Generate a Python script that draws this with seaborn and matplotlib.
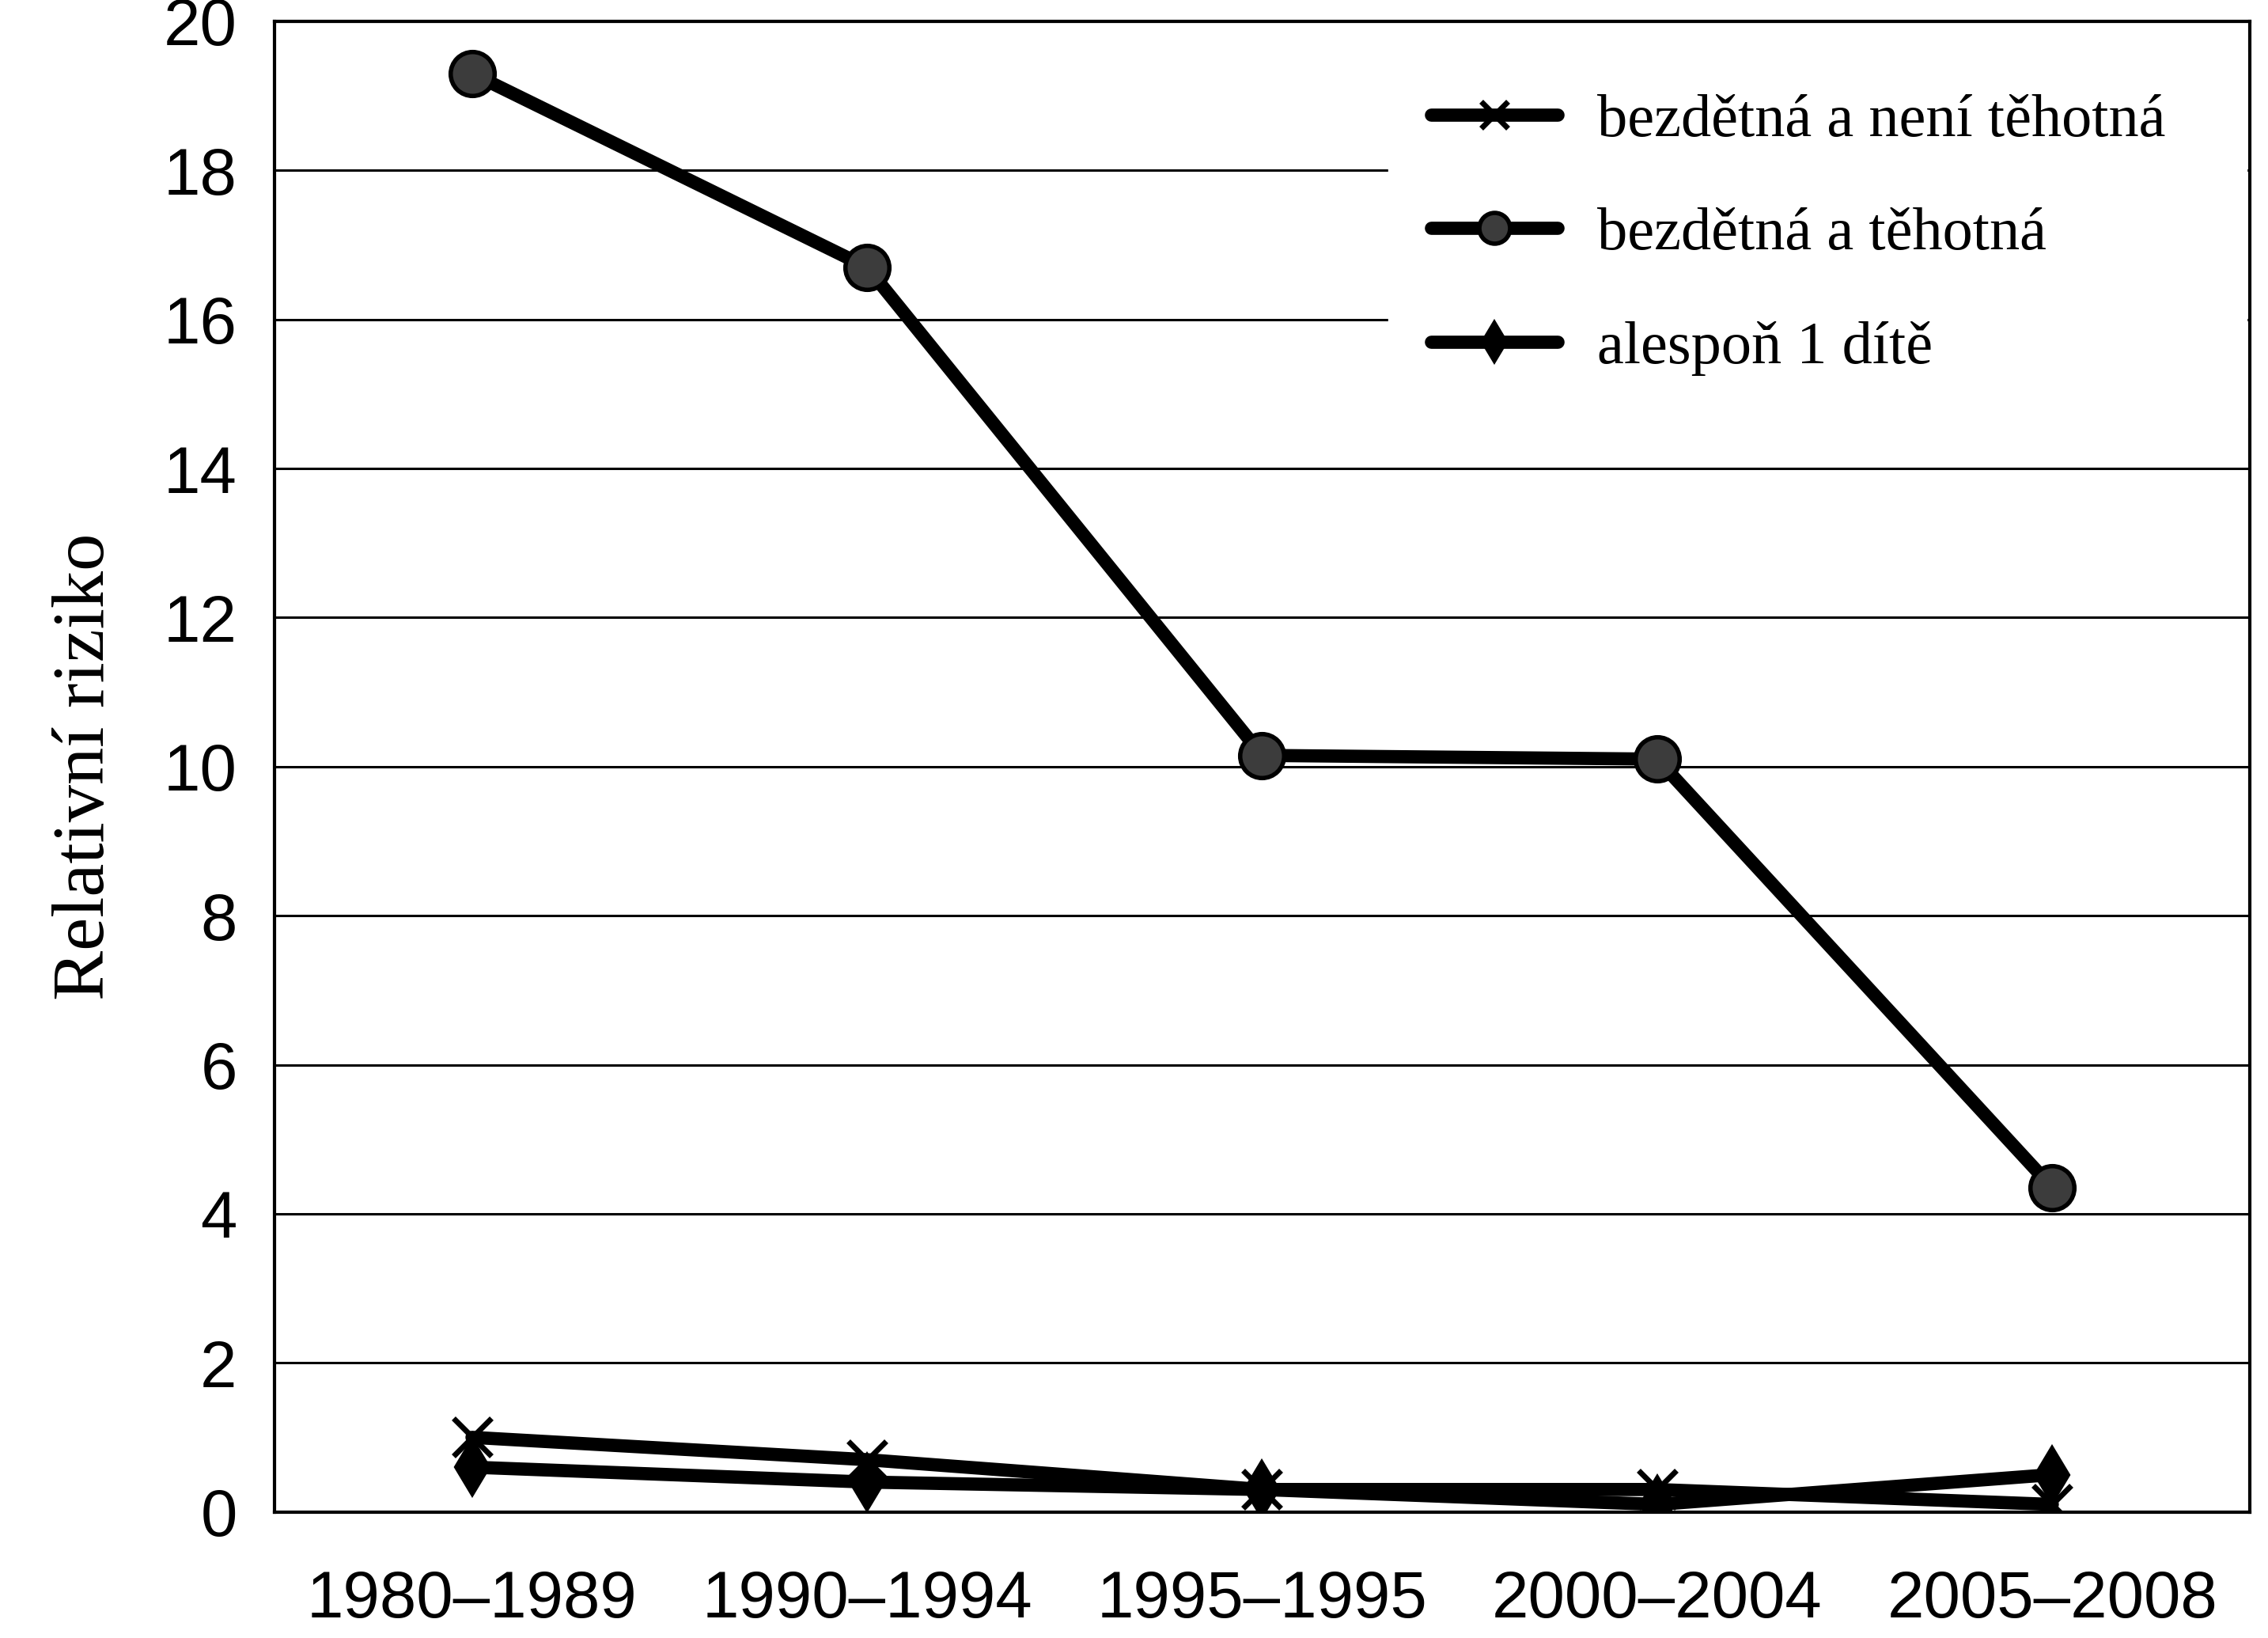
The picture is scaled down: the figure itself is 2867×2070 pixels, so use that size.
import numpy as np
import pandas as pd
import seaborn as sns
import matplotlib.pyplot as plt

sns.set_style("white")
plt.rcParams["font.family"] = ["Liberation Sans", "DejaVu Sans"]
plt.rcParams["text.color"] = "black"
plt.rcParams["axes.labelcolor"] = "black"
plt.rcParams["xtick.color"] = "black"
plt.rcParams["ytick.color"] = "black"

periody = ["1980–1989", "1990–1994", "1995–1995", "2000–2004", "2005–2008"]
neni_tehotna = [1.0, 0.7, 0.3, 0.3, 0.1]
tehotna = [19.3, 16.7, 10.15, 10.1, 4.35]
alespon_dite = [0.6, 0.4, 0.3, 0.1, 0.5]

nazvy = ["bezdětná a není těhotná", "bezdětná a těhotná", "alespoň 1 dítě"]

df = pd.DataFrame({
    "x": np.arange(len(periody)),
    nazvy[0]: neni_tehotna,
    nazvy[1]: tehotna,
    nazvy[2]: alespon_dite,
})

fig = plt.figure(figsize=(28.67, 20.70), dpi=100)
ax = fig.add_axes([0.121, 0.077, 0.871, 0.910])

ax.yaxis.grid(True, color="black", linewidth=2.2)
ax.set_axisbelow(True)

styly = {
    nazvy[0]: dict(marker="x", markersize=34, markeredgewidth=5,
                   markerfacecolor="black", markeredgecolor="black"),
    nazvy[1]: dict(marker="o", markersize=40, markeredgewidth=4,
                   markerfacecolor="#3c3c3c", markeredgecolor="black"),
    nazvy[2]: dict(marker="d", markersize=36, markeredgewidth=3,
                   markerfacecolor="black", markeredgecolor="black"),
}
for n in nazvy:
    sns.lineplot(data=df, x="x", y=n, ax=ax, color="black", linewidth=12,
                 label=n, solid_capstyle="round", **styly[n])

ax.set_ylim(0, 20)
ax.set_xlim(-0.5, len(periody) - 0.5)
ax.set_yticks(range(0, 21, 2))
ax.set_xticks(np.arange(len(periody) + 1) - 0.5)
ax.set_xticklabels([""] * (len(periody) + 1))
ax.set_xticks(np.arange(len(periody)), minor=True)
ax.set_xticklabels(periody, minor=True, fontsize=60)
ax.tick_params(axis="x", which="major", direction="out", length=16, width=2.5, color="black")
ax.tick_params(axis="x", which="minor", length=0, pad=52)
ax.tick_params(axis="y", direction="out", length=12, width=2.5, color="black", labelsize=60, pad=22)

for s in ax.spines.values():
    s.set_color("black")
    s.set_linewidth(3)

ax.set_xlabel("")
ax.set_ylabel("Relativní riziko", family=["Liberation Serif", "DejaVu Serif"], fontsize=68, labelpad=40)

# legenda s bílým pozadím zakrývá mřížku vpravo nahoře
leg = ax.legend(loc="upper left", bbox_to_anchor=(0.564, 0.98, 0.4345, 0.0), mode="expand",
                frameon=True, fancybox=False,
                prop={"family": ["Liberation Serif", "DejaVu Serif"], "size": 55},
                handlelength=2.1, labelspacing=0.97, borderpad=0.7, handletextpad=0.65,
                borderaxespad=0)
leg.get_frame().set_facecolor("white")
leg.get_frame().set_edgecolor("white")
leg.get_frame().set_alpha(1)
for h in leg.legend_handles:
    h.set_markersize(h.get_markersize() * 0.7)

fig.savefig("out.png", dpi=100)
